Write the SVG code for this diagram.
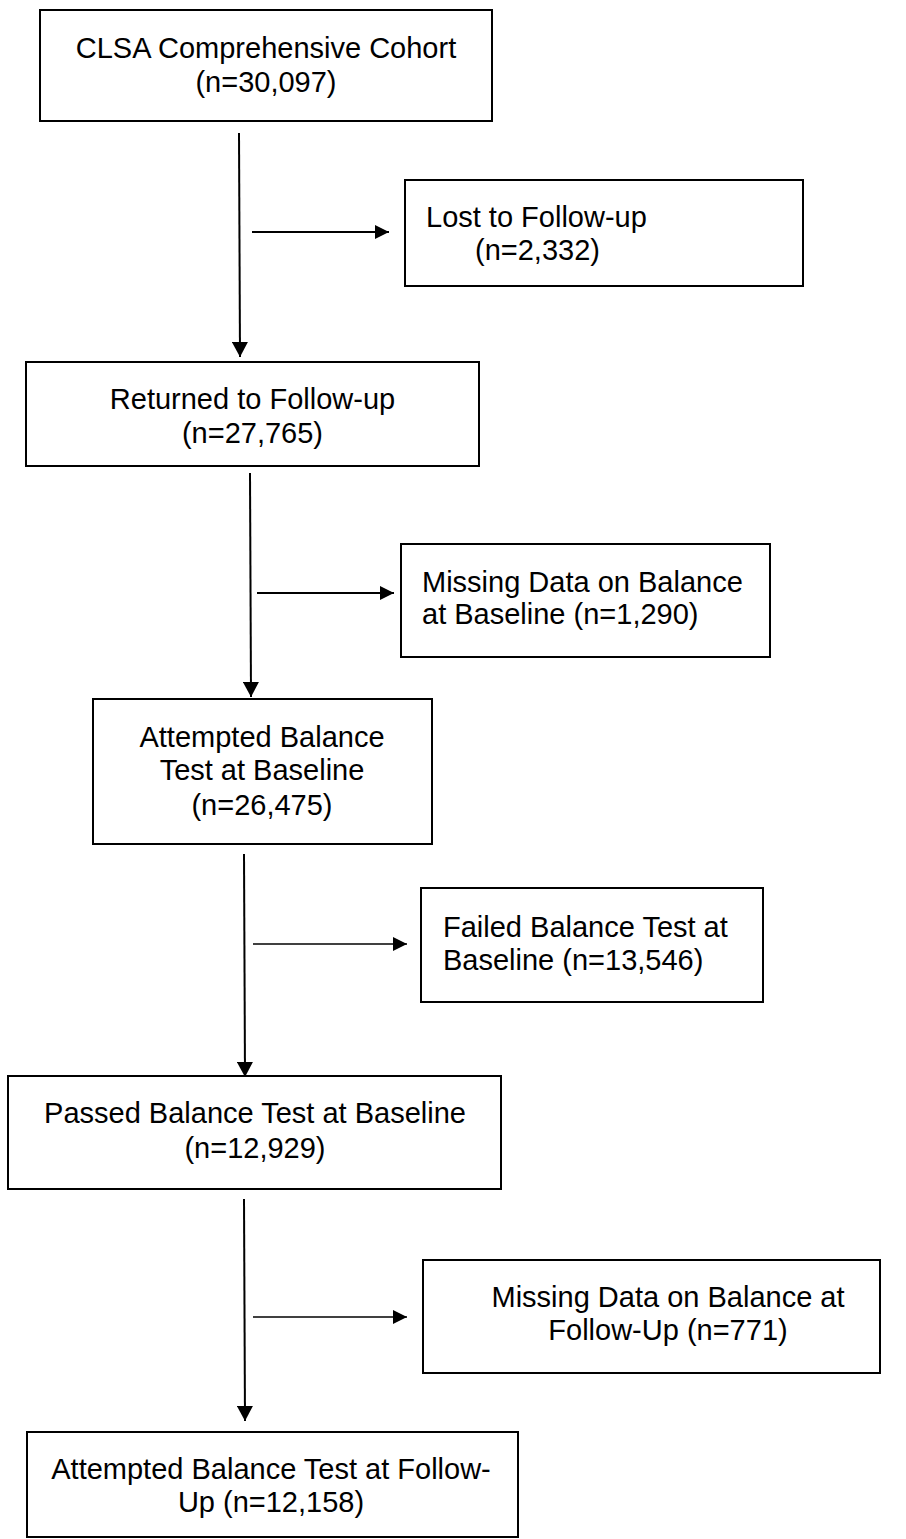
<svg xmlns="http://www.w3.org/2000/svg" width="906" height="1539" viewBox="0 0 906 1539">
<defs>
<marker id="ah" markerUnits="userSpaceOnUse" markerWidth="16" markerHeight="16" viewBox="0 0 16 16" refX="15" refY="8" orient="auto">
<path d="M0,0 L15,8 L0,16 Z" fill="#000"/>
</marker>
<marker id="ahs" markerUnits="userSpaceOnUse" markerWidth="14" markerHeight="14" viewBox="0 0 14 14" refX="14" refY="7" orient="auto">
<path d="M0,0 L14,7 L0,14 Z" fill="#000"/>
</marker>
</defs>
<style>
.box{fill:#fff;stroke:#000;stroke-width:2}
.t{font-family:"Liberation Sans",Arial,sans-serif;font-size:29px;fill:#000}
.c{text-anchor:middle}
.ln{stroke:#000;stroke-width:2;fill:none}
.lt{stroke:#000;stroke-width:1.4;fill:none}
</style>
<rect width="906" height="1539" fill="#fff"/>
<g id="connectors">
<line class="ln" x1="239" y1="133" x2="240" y2="357" marker-end="url(#ah)"/>
<line class="ln" x1="252" y1="232" x2="389" y2="232" marker-end="url(#ahs)"/>
<line class="ln" x1="250" y1="473" x2="251" y2="697" marker-end="url(#ah)"/>
<line class="ln" x1="257" y1="593" x2="394" y2="593" marker-end="url(#ahs)"/>
<line class="ln" x1="244" y1="854" x2="245" y2="1077" marker-end="url(#ah)"/>
<line class="lt" x1="253" y1="944" x2="407" y2="944" marker-end="url(#ahs)"/>
<line class="ln" x1="244" y1="1199" x2="245" y2="1421" marker-end="url(#ah)"/>
<line class="lt" x1="253" y1="1317" x2="407" y2="1317" marker-end="url(#ahs)"/>
</g>
<g id="n1">
<rect class="box" x="40" y="10" width="452" height="111"/>
<text class="t c" x="266" y="58">CLSA Comprehensive Cohort</text>
<text class="t c" x="266" y="92">(n=30,097)</text>
</g>
<g id="n2">
<rect class="box" x="405" y="180" width="398" height="106"/>
<text class="t" x="426" y="227">Lost to Follow-up</text>
<text class="t" x="475" y="260">(n=2,332)</text>
</g>
<g id="n3">
<rect class="box" x="26" y="362" width="453" height="104"/>
<text class="t c" x="252.5" y="409">Returned to Follow-up</text>
<text class="t c" x="252.5" y="443">(n=27,765)</text>
</g>
<g id="n4">
<rect class="box" x="401" y="544" width="369" height="113"/>
<text class="t" x="422" y="592">Missing Data on Balance</text>
<text class="t" x="422" y="624">at Baseline (n=1,290)</text>
</g>
<g id="n5">
<rect class="box" x="93" y="699" width="339" height="145"/>
<text class="t c" x="262" y="747">Attempted Balance</text>
<text class="t c" x="262" y="780">Test at Baseline</text>
<text class="t c" x="262" y="815">(n=26,475)</text>
</g>
<g id="n6">
<rect class="box" x="421" y="888" width="342" height="114"/>
<text class="t" x="443" y="937">Failed Balance Test at</text>
<text class="t" x="443" y="970">Baseline (n=13,546)</text>
</g>
<g id="n7">
<rect class="box" x="8" y="1076" width="493" height="113"/>
<text class="t c" x="255" y="1123">Passed Balance Test at Baseline</text>
<text class="t c" x="255" y="1158">(n=12,929)</text>
</g>
<g id="n8">
<rect class="box" x="423" y="1260" width="457" height="113"/>
<text class="t c" x="668" y="1307">Missing Data on Balance at</text>
<text class="t c" x="668" y="1340">Follow-Up (n=771)</text>
</g>
<g id="n9">
<rect class="box" x="27" y="1432" width="491" height="105"/>
<text class="t c" x="271" y="1479">Attempted Balance Test at Follow-</text>
<text class="t c" x="271" y="1512">Up (n=12,158)</text>
</g>
</svg>
